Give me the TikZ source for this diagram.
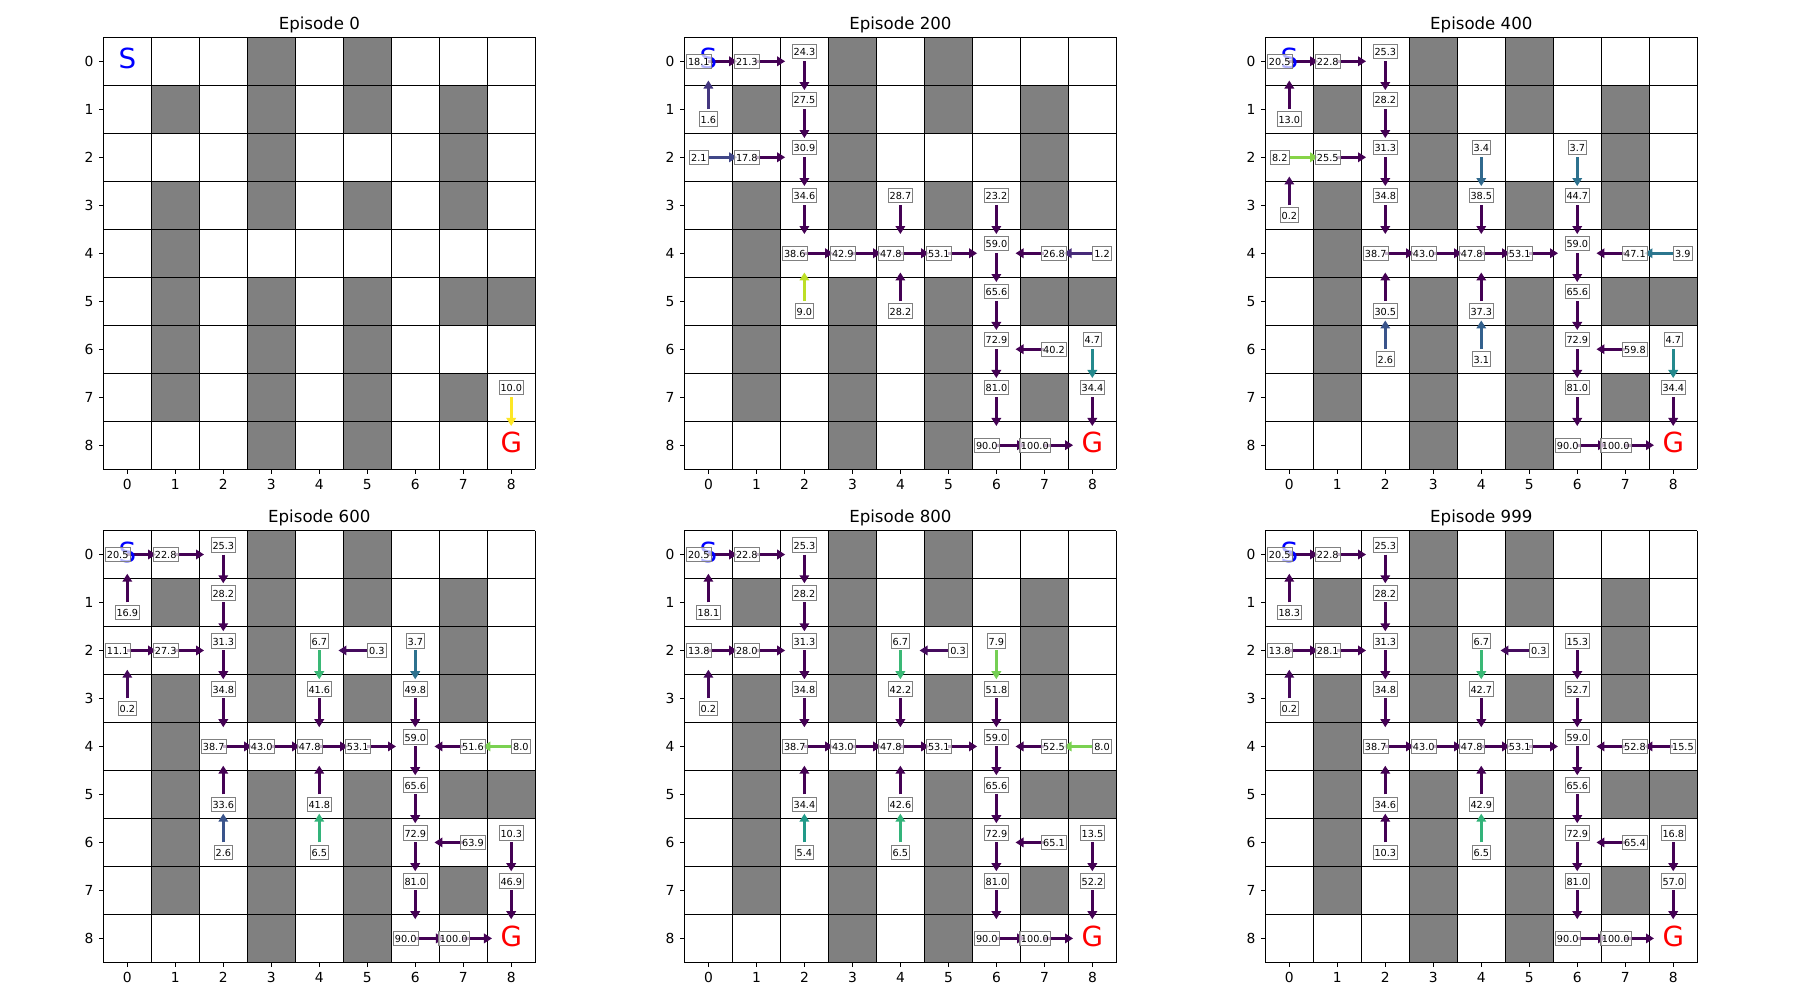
\documentclass[tikz,border=0pt]{standalone}
\usepackage{fontspec}
\setmainfont{DejaVu Sans}
\usetikzlibrary{arrows.meta}

% viridis, sampled at 0.0, 0.1, ..., 1.0
\definecolor{vir0}{HTML}{440154}
\definecolor{vir1}{HTML}{482475}
\definecolor{vir2}{HTML}{414487}
\definecolor{vir3}{HTML}{355F8D}
\definecolor{vir4}{HTML}{2A788E}
\definecolor{vir5}{HTML}{21918C}
\definecolor{vir6}{HTML}{22A884}
\definecolor{vir7}{HTML}{44BF70}
\definecolor{vir8}{HTML}{7AD151}
\definecolor{vir9}{HTML}{BDDF26}
\definecolor{vir10}{HTML}{FDE725}
\definecolor{vir11}{HTML}{FDE725}
\definecolor{wallgray}{HTML}{808080}
\definecolor{startblue}{HTML}{0000FF}
\definecolor{goalred}{HTML}{FF0000}

% action directions (y grows downwards)
\def\dxR{1}\def\dyR{0}
\def\dxL{-1}\def\dyL{0}
\def\dxU{0}\def\dyU{-1}
\def\dxD{0}\def\dyD{1}

% arrow colour from its value
\newcommand{\pickcol}[1]{%
  \pgfmathsetmacro{\qv}{#1>10 ? 0 : #1}%
  \pgfmathtruncatemacro{\qlo}{floor(\qv)}%
  \pgfmathtruncatemacro{\qhi}{\qlo+1}%
  \pgfmathtruncatemacro{\qpct}{round(100*(1-(\qv-\qlo)))}%
  \colorlet{arrcol}{vir\qlo!\qpct!vir\qhi}}

\tikzset{
  cellline/.style={line width=0.8pt, black},
  tickline/.style={line width=0.8pt, black},
  ticklabel/.style={inner sep=0pt, font=\fontsize{10}{12}\selectfont},
  paneltitle/.style={anchor=base, inner sep=0pt, font=\fontsize{12}{14}\selectfont},
  qarrow/.style={line width=2.4pt, -{Triangle[width=6.8pt, length=5.8pt]}},
  qlabel/.style={draw=gray, line width=0.6pt, fill=white, fill opacity=0.7,
    text opacity=1, inner xsep=1.1pt, inner ysep=0.6pt, text height=0.75em,
    text depth=0.15em, font=\fontsize{7}{8}\selectfont},
  sglabel/.style={inner sep=0pt, font=\fontsize{20}{24}\selectfont},
}

\def\wallcells{0/3,0/5,1/1,1/3,1/5,1/7,2/3,2/7,3/1,3/3,3/5,3/7,4/1,5/1,5/3,5/5,5/7,5/8,6/1,6/3,6/5,7/1,7/3,7/5,7/7,8/3,8/5}

% row/col/action/value
\def\qvalsA{7/8/D/10.0}
\def\qvalsB{0/0/R/18.1, 0/1/R/21.3, 0/2/D/24.3, 1/0/U/1.6, 1/2/D/27.5, 2/0/R/2.1, 2/1/R/17.8, 2/2/D/30.9, 3/2/D/34.6, 3/4/D/28.7, 3/6/D/23.2, 4/2/R/38.6, 4/3/R/42.9, 4/4/R/47.8, 4/5/R/53.1, 4/6/D/59.0, 4/7/L/26.8, 4/8/L/1.2, 5/2/U/9.0, 5/4/U/28.2, 5/6/D/65.6, 6/6/D/72.9, 6/7/L/40.2, 6/8/D/4.7, 7/6/D/81.0, 7/8/D/34.4, 8/6/R/90.0, 8/7/R/100.0}
\def\qvalsC{0/0/R/20.5, 0/1/R/22.8, 0/2/D/25.3, 1/0/U/13.0, 1/2/D/28.2, 2/0/R/8.2, 2/1/R/25.5, 2/2/D/31.3, 2/4/D/3.4, 2/6/D/3.7, 3/0/U/0.2, 3/2/D/34.8, 3/4/D/38.5, 3/6/D/44.7, 4/2/R/38.7, 4/3/R/43.0, 4/4/R/47.8, 4/5/R/53.1, 4/6/D/59.0, 4/7/L/47.1, 4/8/L/3.9, 5/2/U/30.5, 5/4/U/37.3, 5/6/D/65.6, 6/2/U/2.6, 6/4/U/3.1, 6/6/D/72.9, 6/7/L/59.8, 6/8/D/4.7, 7/6/D/81.0, 7/8/D/34.4, 8/6/R/90.0, 8/7/R/100.0}
\def\qvalsD{0/0/R/20.5, 0/1/R/22.8, 0/2/D/25.3, 1/0/U/16.9, 1/2/D/28.2, 2/0/R/11.1, 2/1/R/27.3, 2/2/D/31.3, 2/4/D/6.7, 2/5/L/0.3, 2/6/D/3.7, 3/0/U/0.2, 3/2/D/34.8, 3/4/D/41.6, 3/6/D/49.8, 4/2/R/38.7, 4/3/R/43.0, 4/4/R/47.8, 4/5/R/53.1, 4/6/D/59.0, 4/7/L/51.6, 4/8/L/8.0, 5/2/U/33.6, 5/4/U/41.8, 5/6/D/65.6, 6/2/U/2.6, 6/4/U/6.5, 6/6/D/72.9, 6/7/L/63.9, 6/8/D/10.3, 7/6/D/81.0, 7/8/D/46.9, 8/6/R/90.0, 8/7/R/100.0}
\def\qvalsE{0/0/R/20.5, 0/1/R/22.8, 0/2/D/25.3, 1/0/U/18.1, 1/2/D/28.2, 2/0/R/13.8, 2/1/R/28.0, 2/2/D/31.3, 2/4/D/6.7, 2/5/L/0.3, 2/6/D/7.9, 3/0/U/0.2, 3/2/D/34.8, 3/4/D/42.2, 3/6/D/51.8, 4/2/R/38.7, 4/3/R/43.0, 4/4/R/47.8, 4/5/R/53.1, 4/6/D/59.0, 4/7/L/52.5, 4/8/L/8.0, 5/2/U/34.4, 5/4/U/42.6, 5/6/D/65.6, 6/2/U/5.4, 6/4/U/6.5, 6/6/D/72.9, 6/7/L/65.1, 6/8/D/13.5, 7/6/D/81.0, 7/8/D/52.2, 8/6/R/90.0, 8/7/R/100.0}
\def\qvalsF{0/0/R/20.5, 0/1/R/22.8, 0/2/D/25.3, 1/0/U/18.3, 1/2/D/28.2, 2/0/R/13.8, 2/1/R/28.1, 2/2/D/31.3, 2/4/D/6.7, 2/5/L/0.3, 2/6/D/15.3, 3/0/U/0.2, 3/2/D/34.8, 3/4/D/42.7, 3/6/D/52.7, 4/2/R/38.7, 4/3/R/43.0, 4/4/R/47.8, 4/5/R/53.1, 4/6/D/59.0, 4/7/L/52.8, 4/8/L/15.5, 5/2/U/34.6, 5/4/U/42.9, 5/6/D/65.6, 6/2/U/10.3, 6/4/U/6.5, 6/6/D/72.9, 6/7/L/65.4, 6/8/D/16.8, 7/6/D/81.0, 7/8/D/57.0, 8/6/R/90.0, 8/7/R/100.0}

% id, left, top, title, values
\newcommand{\gridpanel}[5]{%
  \begin{scope}[shift={(#2,#3)}, scale=48]
    % cells and walls
    \fill[white] (0,0) rectangle (9,9);
    \foreach \row/\col in \wallcells
      \fill[wallgray] (\col,\row) rectangle ++(1,1);
    \foreach \i in {0,...,9} {
      \draw[cellline] (\i,0) -- (\i,9);
      \draw[cellline] (0,\i) -- (9,\i);
    }
    % ticks
    \foreach \i in {0,...,8} {
      \draw[tickline] (\i+.5,9) -- (\i+.5,9.1);
      \draw[tickline] (0,\i+.5) -- (-.1,\i+.5);
      \node[ticklabel, anchor=north] (#1x\i) at (\i+.5,9.2) {\i};
      \node[ticklabel, anchor=east] (#1y\i) at (-.2,\i+.5) {\i};
    }
    \node[paneltitle] (#1title) at (4.5,-.17) {#4};
    % greedy actions
    \foreach \row/\col/\dir/\val in #5 {
      \pickcol{\val}
      \edef\dx{\csname dx\dir\endcsname}\edef\dy{\csname dy\dir\endcsname}
      \coordinate (#1a\row\col) at (\col+.5,\row+.5);
      \coordinate (#1b\row\col) at ({\col+.5+.6*\dx},{\row+.5+.6*\dy});
      \draw[qarrow, draw=arrcol] (#1a\row\col) -- (#1b\row\col);
    }
    \node[sglabel, text=startblue] (#1S) at (.5,.45) {S};
    \node[sglabel, text=goalred] (#1G) at (8.5,8.45) {G};
    % values
    \foreach \row/\col/\dir/\val in #5 {
      \edef\dx{\csname dx\dir\endcsname}\edef\dy{\csname dy\dir\endcsname}
      \node[qlabel] (#1v\row\col) at ({\col+.5-.2*\dx},{\row+.5-.2*\dy}) {\val};
    }
  \end{scope}}

\begin{document}
\begin{tikzpicture}[x=0.01in, y=-0.01in]
  \useasboundingbox (0,0) rectangle (1800,1000);

  \gridpanel{p1}{103.3}{37.3}{Episode 0}{\qvalsA}
  \gridpanel{p2}{684.4}{37.3}{Episode 200}{\qvalsB}
  \gridpanel{p3}{1265.3}{37.3}{Episode 400}{\qvalsC}
  \gridpanel{p4}{103.3}{530.5}{Episode 600}{\qvalsD}
  \gridpanel{p5}{684.4}{530.5}{Episode 800}{\qvalsE}
  \gridpanel{p6}{1265.3}{530.5}{Episode 999}{\qvalsF}

\end{tikzpicture}
\end{document}
